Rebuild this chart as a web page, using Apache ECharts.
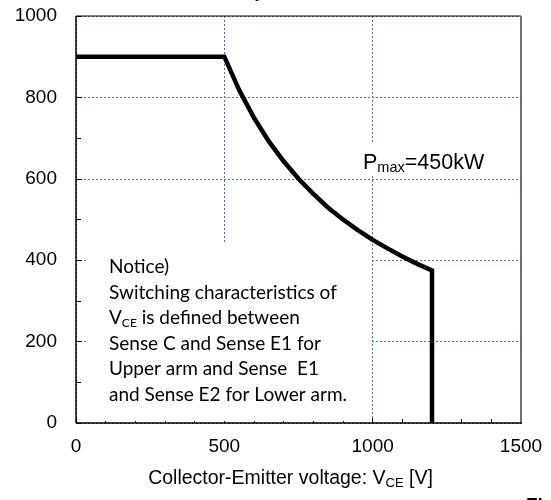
<!DOCTYPE html>
<html>
<head>
<meta charset="utf-8">
<script src="https://cdn.jsdelivr.net/npm/echarts@6/dist/echarts.min.js"></script>
<style>html,body{margin:0;padding:0;background:#fff;}#c{width:551px;height:500px;}</style>
</head>
<body>
<div id="c"></div>
<script>
// Collector-emitter voltage (V) along the safe operating boundary
var vce = [0, 500, 550, 600, 650, 700, 750, 800, 850, 900, 950, 1000, 1050, 1100, 1150, 1200, 1200];
// Collector current (A)
var ic  = [900, 900, 818, 750, 692, 643, 600, 563, 529, 500, 474, 450, 429, 409, 391, 375, 0];
var xTicks = [0, 500, 1000, 1500];
var yTicks = [0, 200, 400, 600, 800, 1000];
var notice = ['Notice)', 'Switching characteristics of', '{v|V}{s|CE}{v| is defined between}', 'Sense C and Sense E1 for', 'Upper arm and Sense  E1', 'and Sense E2 for Lower arm.'];

var chart = echarts.init(document.getElementById('c'), null, {renderer: 'canvas'});
var F = '"Liberation Sans", Arial, sans-serif';
var NF = 'Lato, "Open Sans", sans-serif';
var grid = {left: 76, top: 16, right: 30, bottom: 77};
var pts = vce.map(function (v, i) { return [v, ic[i]]; });
var xMin = xTicks[0], xMax = xTicks[xTicks.length - 1];
var yMin = yTicks[0], yMax = yTicks[yTicks.length - 1];

function baseGraphic() {
  return [
    {id: 'nbox', type: 'rect', z: 1, shape: {x: 88, y: 243, width: 284, height: 178}, style: {fill: '#fff'}},
    {id: 'ntext', type: 'text', z: 2, left: 109, top: 254, style: {
      text: notice.join('\n'), fill: '#000', font: '19px ' + NF, lineHeight: 25.6,
      rich: {v: {fontFamily: NF, fontSize: 19, lineHeight: 25.6, fill: '#000'},
             s: {fontFamily: NF, fontSize: 12, fill: '#000', padding: [10, 0, 0, 0]}}
    }},
    {id: 'pbox', type: 'rect', z: 1, shape: {x: 358, y: 144, width: 134, height: 30}, style: {fill: '#fff'}},
    {id: 'ptext', type: 'text', z: 2, left: 363, top: 152, style: {
      text: '{p|P}{s|max}{p|=450kW}',
      rich: {p: {fontFamily: F, fontSize: 21.5, fill: '#000'},
             s: {fontFamily: F, fontSize: 14.5, fill: '#000', padding: [10, 0, 0, 0]}}
    }},
    {id: 'ttl', type: 'text', z: 2, left: 255, top: -18, style: {text: 'y', font: '19px ' + F, fill: '#000'}},
    {id: 'fig', type: 'text', z: 2, left: 526, top: 496, style: {text: 'Fig.', font: 'bold 19px ' + F, fill: '#000'}}
  ];
}

chart.setOption({
  animation: false,
  backgroundColor: '#fff',
  grid: grid,
  xAxis: [{
    type: 'value', min: xMin, max: xMax, interval: 500,
    position: 'bottom',
    name: '{n|Collector-Emitter voltage: V}{s|CE}{n| [V]}',
    nameLocation: 'middle', nameGap: 45,
    nameTextStyle: {padding: [0, 16, 0, 0], rich: {
      n: {fontFamily: F, fontSize: 19.5, color: '#000'},
      s: {fontFamily: F, fontSize: 13, color: '#000', padding: [9, 0, 0, 0]}
    }},
    axisLine: {show: false, onZero: false},
    axisTick: {show: true, inside: true, length: 5, lineStyle: {color: '#000'}},
    minorTick: {show: true, splitNumber: 5, length: 4, lineStyle: {color: '#000'}},
    axisLabel: {fontFamily: F, fontSize: 19, color: '#000', margin: 14, formatter: function (v) { return String(v); }},
    splitLine: {show: true, lineStyle: {color: '#4472C4', type: [2, 2], width: 1}}
  }],
  yAxis: [{
    type: 'value', min: yMin, max: yMax, interval: 200,
    axisLine: {show: false, onZero: false},
    axisTick: {show: true, inside: true, length: 6, lineStyle: {color: '#000'}},
    minorTick: {show: true, splitNumber: 2, length: 5, lineStyle: {color: '#000'}},
    axisLabel: {fontFamily: F, fontSize: 19, color: '#000', margin: 19, formatter: function (v) { return String(v); }},
    splitLine: {show: true, lineStyle: {color: '#4472C4', type: [2, 2], width: 1}}
  }],
  series: [{
    type: 'line', data: pts,
    showSymbol: false, symbol: 'none', z: 5,
    lineStyle: {color: '#000', width: 4.5, join: 'miter'}
  }],
  graphic: baseGraphic()
});

// Frame lines placed through the axes' own scales
var pLB = chart.convertToPixel({gridIndex: 0}, [xMin, yMin]);
var pRT = chart.convertToPixel({gridIndex: 0}, [xMax, yMax]);
var g = baseGraphic();
g.push(
  {id: 'fTop', type: 'line', z: 3, shape: {x1: pLB[0], y1: pRT[1], x2: pRT[0], y2: pRT[1]}, style: {stroke: '#000', lineWidth: 1}},
  {id: 'fRight', type: 'line', z: 3, shape: {x1: pRT[0], y1: pRT[1], x2: pRT[0], y2: pLB[1]}, style: {stroke: '#6b7079', lineWidth: 2}},
  {id: 'fLeft', type: 'line', z: 3, shape: {x1: pLB[0], y1: pRT[1], x2: pLB[0], y2: pLB[1]}, style: {stroke: '#000', lineWidth: 1.5}},
  {id: 'fBottom', type: 'line', z: 3, shape: {x1: pLB[0], y1: pLB[1], x2: pRT[0] + 1, y2: pLB[1]}, style: {stroke: '#000', lineWidth: 1.5}}
);
chart.setOption({graphic: g});
</script>
</body>
</html>
